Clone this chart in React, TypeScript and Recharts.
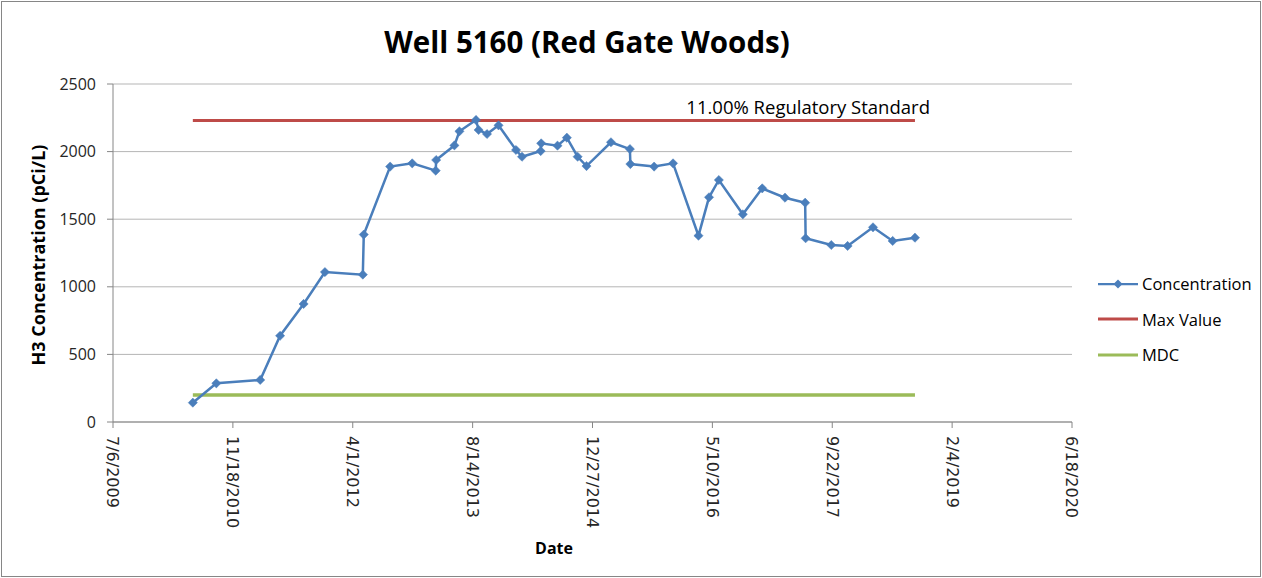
import React from 'react';
import { LineChart, Line, XAxis, YAxis, CartesianGrid, Legend, LabelList } from 'recharts';

const sampleDates = [
  '2010-06-04', '2010-09-10', '2011-03-12', '2011-06-03', '2011-09-09', '2011-12-07',
  '2012-05-13', '2012-05-17', '2012-09-04', '2012-12-05', '2013-03-13', '2013-03-15',
  '2013-05-30', '2013-06-20', '2013-08-28', '2013-09-08', '2013-10-13', '2013-11-30',
  '2014-02-11', '2014-03-08', '2014-05-25', '2014-05-27', '2014-08-03', '2014-09-11',
  '2014-10-26', '2014-12-02', '2015-03-14', '2015-06-01', '2015-06-03', '2015-09-10',
  '2015-11-28', '2016-03-13', '2016-04-26', '2016-06-06', '2016-09-14', '2016-12-04',
  '2017-03-09', '2017-06-01', '2017-06-03', '2017-09-18', '2017-11-25', '2018-03-11',
  '2018-06-01', '2018-09-02',
];
const concentration = [
  143, 286, 311, 638, 873, 1109,
  1090, 1386, 1889, 1913, 1859, 1938,
  2046, 2150, 2234, 2160, 2130, 2194,
  2012, 1962, 2004, 2061, 2044, 2103,
  1962, 1893, 2069, 2019, 1908, 1889,
  1913, 1378, 1662, 1790, 1536, 1728,
  1659, 1622, 1359, 1309, 1302, 1440,
  1339, 1363,
];
const limitDates = ['2010-06-04', '2018-09-02'];
const maxValue = [2230, 2230];
const mdcValue = [200, 200];
const maxValueLabel = '11.00% Regulatory Standard';
const xTickLabels = [
  '7/6/2009', '11/18/2010', '4/1/2012', '8/14/2013', '12/27/2014',
  '5/10/2016', '9/22/2017', '2/4/2019', '6/18/2020',
];
const yTicks = [0, 500, 1000, 1500, 2000, 2500];

const isoToTime = (iso: string) => {
  const [y, m, d] = iso.split('-').map(Number);
  return Date.UTC(y, m - 1, d);
};
const labelToTime = (s: string) => {
  const [m, d, y] = s.split('/').map(Number);
  return Date.UTC(y, m - 1, d);
};
const fmtDate = (t: number) => {
  const dt = new Date(t);
  return `${dt.getUTCMonth() + 1}/${dt.getUTCDate()}/${dt.getUTCFullYear()}`;
};

const concData = sampleDates.map((d, i) => ({ t: isoToTime(d), v: concentration[i] }));
const maxData = limitDates.map((d, i) => ({ t: isoToTime(d), v: maxValue[i] }));
const mdcData = limitDates.map((d, i) => ({ t: isoToTime(d), v: mdcValue[i] }));
const xTicks = xTickLabels.map(labelToTime);

const BLUE = '#4A7EBB';
const RED = '#BE4B48';
const GREEN = '#9BBB59';
const FONT = '"Open Sans", sans-serif';

const Diamond = (props: any) => {
  const { cx, cy } = props;
  if (cx == null || cy == null) return null;
  const r = 4.6;
  return (
    <polygon
      points={`${cx},${cy - r} ${cx + r},${cy} ${cx},${cy + r} ${cx - r},${cy}`}
      fill={BLUE}
      stroke={BLUE}
      strokeWidth={0.5}
    />
  );
};

const XTick = (props: any) => {
  const { x, y, payload } = props;
  return (
    <text
      transform={`translate(${x},${y + 6}) rotate(90)`}
      textAnchor="start"
      dy="0.35em"
      style={{ fontFamily: '"DejaVu Sans"', fontSize: 16 }}
      fill="#262626"
    >
      {fmtDate(payload.value)}
    </text>
  );
};

const YTitle = (props: any) => {
  const vb = props.viewBox || {};
  const cy = vb.y + vb.height / 2;
  return (
    <text
      transform={`translate(38,${cy + 2}) rotate(-90)`}
      textAnchor="middle"
      dominantBaseline="central"
      style={{ fontFamily: FONT, fontWeight: 'bold', fontSize: 18 }}
      fill="#000"
    >
      H3 Concentration (pCi/L)
    </text>
  );
};

const XTitle = () => (
  <text
    x={554}
    y={548}
    textAnchor="middle"
    dominantBaseline="central"
    style={{ fontFamily: FONT, fontWeight: 'bold', fontSize: 16 }}
    fill="#000"
  >
    Date
  </text>
);

const MaxLabel = (props: any) => {
  const { x, y, index } = props;
  if (index !== maxData.length - 1) return null;
  return (
    <text
      x={x + 15}
      y={y - 14}
      textAnchor="end"
      dominantBaseline="central"
      style={{ fontFamily: FONT, fontSize: 18.5 }}
      fill="#000"
    >
      {maxValueLabel}
    </text>
  );
};

const legendItems = [
  { name: 'Concentration', color: BLUE, marker: true },
  { name: 'Max Value', color: RED, marker: false },
  { name: 'MDC', color: GREEN, marker: false },
];

const LegendContent = () => (
  <div style={{ fontFamily: FONT, fontSize: 16.5, color: '#000' }}>
    {legendItems.map((it) => (
      <div key={it.name} style={{ display: 'flex', alignItems: 'center', height: 35.5 }}>
        <svg width={42} height={12} style={{ marginRight: 2, flex: 'none' }}>
          <line x1={0} y1={6} x2={40} y2={6} stroke={it.color} strokeWidth={it.marker ? 2.25 : 3} />
          {it.marker && <polygon points="20,1.5 24.5,6 20,10.5 15.5,6" fill={it.color} />}
        </svg>
        <span style={{ whiteSpace: 'nowrap' }}>{it.name}</span>
      </div>
    ))}
  </div>
);

export default function App() {
  return (
    <div style={{ position: 'absolute', left: 0, top: 0, width: 1262, height: 578, background: '#fff' }}>
      <div
        style={{
          position: 'absolute',
          left: 0,
          top: 22,
          width: 1174,
          textAlign: 'center',
          fontFamily: FONT,
          fontWeight: 'bold',
          fontSize: 29.5,
          lineHeight: '40px',
          color: '#000',
        }}
      >
        Well 5160 (Red Gate Woods)
      </div>
      <LineChart
        width={1262}
        height={578}
        margin={{ top: 84, right: 24, bottom: 16, left: 53 }}
      >
        <CartesianGrid vertical={false} stroke="#B5B5B5" strokeWidth={1} />
        <XAxis
          type="number"
          dataKey="t"
          domain={[xTicks[0], xTicks[xTicks.length - 1]]}
          ticks={xTicks}
          interval={0}
          height={140}
          axisLine={{ stroke: '#868686' }}
          tickLine={{ stroke: '#868686' }}
          tickSize={6}
          tick={<XTick />}
          label={<XTitle />}
          allowDataOverflow
        />
        <YAxis
          type="number"
          domain={[0, 2500]}
          ticks={yTicks}
          interval={0}
          width={60}
          axisLine={{ stroke: '#868686' }}
          tickLine={{ stroke: '#868686' }}
          tickSize={6}
          tickMargin={11}
          tick={{ fontFamily: FONT, fontSize: 16, fill: '#262626' }}
          label={<YTitle />}
        />
        <Legend
          layout="vertical"
          align="right"
          verticalAlign="middle"
          width={166}
          wrapperStyle={{ left: 1098, top: 266, width: 166 }}
          content={<LegendContent />}
        />
        <Line
          data={maxData}
          dataKey="v"
          name="Max Value"
          stroke={RED}
          strokeWidth={3}
          dot={false}
          activeDot={false}
          isAnimationActive={false}
        >
          <LabelList dataKey="v" content={<MaxLabel />} />
        </Line>
        <Line
          data={mdcData}
          dataKey="v"
          name="MDC"
          stroke={GREEN}
          strokeWidth={3.5}
          dot={false}
          activeDot={false}
          isAnimationActive={false}
        />
        <Line
          data={concData}
          dataKey="v"
          name="Concentration"
          stroke={BLUE}
          strokeWidth={2.5}
          dot={<Diamond />}
          activeDot={false}
          isAnimationActive={false}
        />
      </LineChart>
      <div
        style={{
          position: 'absolute',
          left: 1,
          top: 1,
          width: 1258,
          height: 574,
          border: '1px solid #868686',
          pointerEvents: 'none',
        }}
      />
    </div>
  );
}
